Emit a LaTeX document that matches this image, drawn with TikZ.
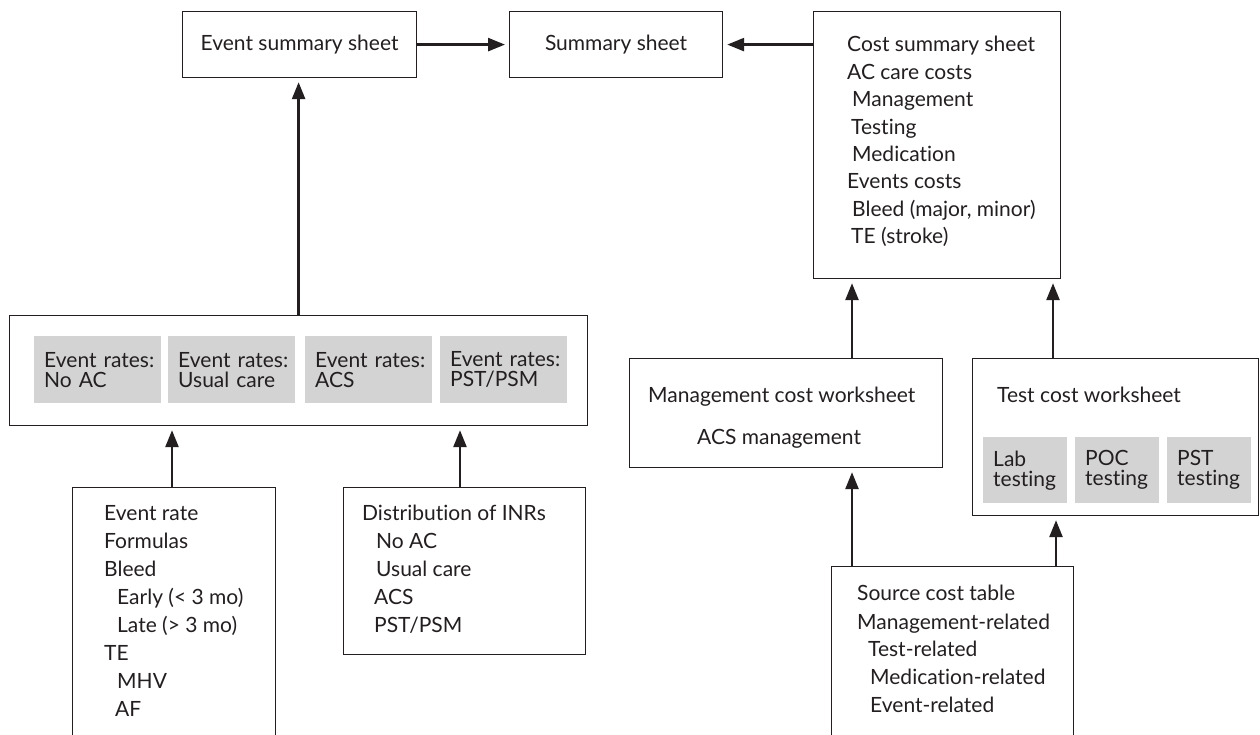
\documentclass[tikz,border=0pt]{standalone}
\usepackage{fontspec}
\setmainfont{Lato}[Ligatures={NoCommon,TeX}]
\usetikzlibrary{arrows.meta}
\definecolor{ink}{HTML}{231F20}
\definecolor{shade}{HTML}{D3D3D4}
\newcommand{\diafont}{\fontsize{21pt}{28pt}\selectfont}
\newcommand{\cellfont}{\fontsize{21pt}{20pt}\selectfont}
\begin{document}
\begin{tikzpicture}[x=1pt,y=-1pt,
  box/.style={draw=ink, line width=1.2pt, inner sep=0pt, anchor=north west, text=ink, font=\diafont},
  cell/.style={fill=shade, inner xsep=10pt, inner ysep=0pt, anchor=north west, align=left, text=ink, font=\cellfont},
  txt/.style={anchor=base west, inner sep=0pt, text=ink, font=\diafont},
  arr/.style={draw=ink, line width=2.6pt, -{Triangle[length=17pt,width=13pt]}, shorten >=4pt}]
\useasboundingbox (0,0) rectangle (1260,735);
\clip (0,0) rectangle (1260,735);
\fill[white] (0,0) rectangle (1260,735);

% top row
\node[box, minimum width=234pt, minimum height=66pt] (esum) at (182,11) {Event summary sheet};
\node[box, minimum width=213pt, minimum height=66pt] (sum) at (509,11) {Summary sheet};
\node[box, minimum width=247pt, minimum height=267pt] (cost) at (813,11) {};
\node[txt] (c1) at (847,52) {Cost summary sheet};
\node[txt] (c2) at (847,79.4) {AC care costs};
\node[txt] (c3) at (852,106.8) {Management};
\node[txt] (c4) at (851,134.2) {Testing};
\node[txt] (c5) at (852,161.6) {Medication};
\node[txt] (c6) at (847,189) {Events costs};
\node[txt] (c7) at (852,216.4) {Bleed (major, minor)};
\node[txt] (c8) at (851,243.8) {TE (stroke)};

% event rates
\node[box, minimum width=578pt, minimum height=110pt] (rates) at (9,315) {};
\node[cell, text width=107pt, minimum height=67pt] (r1) at (34,336) {\mbox{Event rates:}\\No AC};
\node[cell, text width=107pt, minimum height=67pt] (r2) at (168,336) {\mbox{Event rates:}\\Usual care};
\node[cell, text width=107pt, minimum height=67pt] (r3) at (305,336) {\mbox{Event rates:}\\ACS};
\node[cell, text width=107pt, minimum height=67pt] (r4) at (440,336) {\mbox{Event rates:}\\PST/PSM};

% event rate formulas
\node[box, minimum width=203pt, minimum height=300pt] (evr) at (72,487) {};
\node[txt] (e1) at (104,520) {Event rate};
\node[txt] (e2) at (104,548) {Formulas};
\node[txt] (e3) at (104,576) {Bleed};
\node[txt] (e4) at (117,604) {Early (< 3 mo)};
\node[txt] (e5) at (117,632) {Late (> 3 mo)};
\node[txt] (e6) at (104,660) {TE};
\node[txt] (e7) at (117,688) {MHV};
\node[txt] (e8) at (115,716) {AF};

% distribution
\node[box, minimum width=242pt, minimum height=167pt] (dist) at (343,487) {};
\node[txt] (d1) at (362,520) {Distribution of INRs};
\node[txt] (d2) at (376,548) {No AC};
\node[txt] (d3) at (376,576) {Usual care};
\node[txt] (d4) at (374,604) {ACS};
\node[txt] (d5) at (374,632) {PST/PSM};

% management worksheet
\node[box, minimum width=313pt, minimum height=109pt] (mgmt) at (629,358) {};
\node[txt] (m1) at (648,402) {Management cost worksheet};
\node[txt] (m2) at (697,444) {ACS management};

% test worksheet
\node[box, minimum width=286pt, minimum height=157pt] (test) at (972,358) {};
\node[txt] (t0) at (997,402) {Test cost worksheet};
\node[cell, text width=64pt, minimum height=66pt] (t1) at (983,437) {Lab\\testing};
\node[cell, text width=64pt, minimum height=66pt] (t2) at (1075,437) {POC\\testing};
\node[cell, text width=64pt, minimum height=66pt] (t3) at (1167,437) {PST\\testing};

% source cost table
\node[box, minimum width=242pt, minimum height=250pt] (src) at (831,566) {};
\node[txt] (s1) at (857,600) {Source cost table};
\node[txt] (s2) at (857,629) {Management-related};
\node[txt] (s3) at (868,656) {Test-related};
\node[txt] (s4) at (870,684) {Medication-related};
\node[txt] (s5) at (870,712) {Event-related};

% arrow columns
\coordinate (xL) at (172,0);
\coordinate (xD) at (460,0);
\coordinate (xM) at (852,0);
\coordinate (xT) at (1053,0);
\coordinate (xS) at (1056,0);

\draw[arr] (rates.north) -- (rates.north |- esum.south);
\draw[arr] (esum.east) -- (sum.west);
\draw[arr] (cost.west |- sum.east) -- (sum.east);
\draw[arr] (xL |- evr.north) -- (xL |- rates.south);
\draw[arr] (xD |- dist.north) -- (xD |- rates.south);
\draw[arr] (xM |- mgmt.north) -- (xM |- cost.south);
\draw[arr] (xT |- test.north) -- (xT |- cost.south);
\draw[arr] (xM |- src.north) -- (xM |- mgmt.south);
\draw[arr] (xS |- src.north) -- (xS |- test.south);
\end{tikzpicture}
\end{document}
